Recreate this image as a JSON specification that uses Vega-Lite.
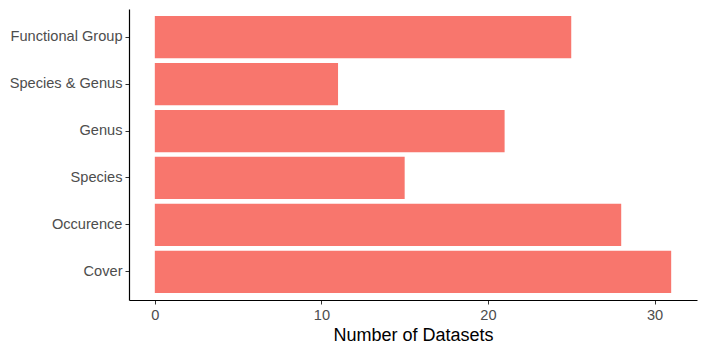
{
  "$schema": "https://vega.github.io/schema/vega-lite/v6.json",
  "width": 568,
  "height": 291,
  "autosize": {"type": "none"},
  "padding": {"left": 129, "top": 9, "right": 10, "bottom": 53},
  "background": "white",
  "data": {"values": [
    {"category": "Functional Group", "n": 25},
    {"category": "Species & Genus", "n": 11},
    {"category": "Genus", "n": 21},
    {"category": "Species", "n": 15},
    {"category": "Occurence", "n": 28},
    {"category": "Cover", "n": 31}
  ]},
  "mark": {"type": "bar", "color": "#F8766D"},
  "encoding": {
    "y": {
      "field": "category", "type": "nominal",
      "sort": ["Functional Group", "Species & Genus", "Genus", "Species", "Occurence", "Cover"],
      "scale": {"paddingInner": 0.1, "paddingOuter": 0.15},
      "axis": {"title": null, "labelFont": "Liberation Sans", "labelFontSize": 14.6, "labelColor": "#4d4d4d", "domainColor": "black", "domainWidth": 1.2, "tickColor": "#333333", "tickSize": 4, "labelPadding": 3}
    },
    "x": {
      "field": "n", "type": "quantitative",
      "scale": {"domain": [-1.55, 32.55], "nice": false, "zero": false},
      "axis": {"values": [0, 10, 20, 30], "title": "Number of Datasets", "titleFont": "Liberation Sans", "titleFontSize": 18, "titleFontWeight": "normal", "titleColor": "black", "titlePadding": 5, "labelFont": "Liberation Sans", "labelFontSize": 14.6, "labelColor": "#4d4d4d", "domainColor": "black", "domainWidth": 1.2, "tickColor": "#333333", "tickSize": 4, "labelPadding": 3, "grid": false}
    }
  },
  "config": {"view": {"stroke": null}}
}
